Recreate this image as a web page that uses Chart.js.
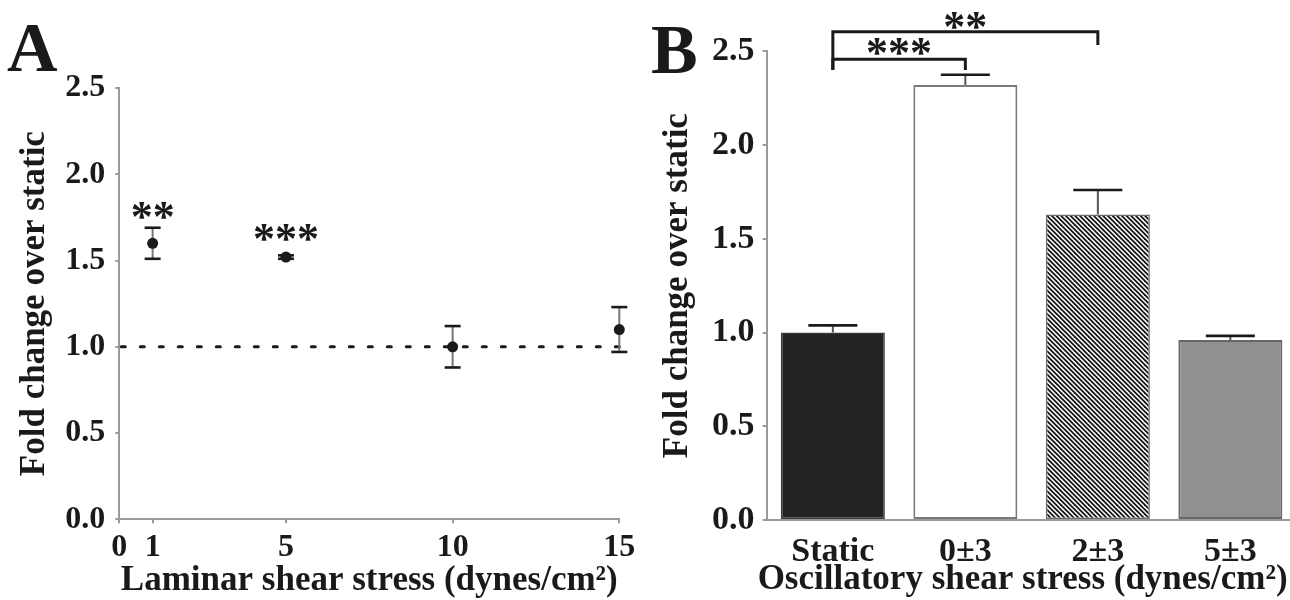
<!DOCTYPE html>
<html><head><meta charset="utf-8">
<script src="https://cdn.jsdelivr.net/npm/chart.js@4.4.0/dist/chart.umd.min.js"></script>
<style>
html,body{margin:0;padding:0;background:#fff;overflow:hidden;width:1290px;height:600px;}
#wrap{position:relative;width:1290px;height:600px;overflow:hidden;background:#fff;}
canvas{position:absolute;top:0;}
#cA{left:0;}
#cB{left:640px;}
.panel{position:absolute;font-family:"Liberation Serif","Times New Roman",serif;font-weight:bold;font-size:70px;line-height:70px;color:#1a1a1a;}
</style></head><body>
<div id="wrap">
<canvas id="cA" width="660" height="600"></canvas>
<canvas id="cB" width="660" height="600"></canvas>
<div class="panel" style="left:7px;top:13px">A</div>
<div class="panel" style="left:651px;top:15px">B</div>
</div>
<script>
// ---- Panel A data (laminar shear) ----
const laminarStress = [1, 5, 10, 15];
const laminarFold   = [1.60, 1.52, 1.00, 1.10];
const laminarErr    = [0.09, 0.01, 0.12, 0.13];
const laminarSig    = ['**', '***', '', ''];
const laminarTicks  = [0, 1, 5, 10, 15];
const staticRef     = 1.0;

// ---- Panel B data (oscillatory shear) ----
const oscCategories = ['Static', '0±3', '2±3', '5±3'];
const oscFold       = [1.00, 2.32, 1.63, 0.96];
const oscErr        = [0.038, 0.055, 0.13, 0.022];
const oscComparisons = [
  { from: 0, to: 1, label: '***' },
  { from: 0, to: 2, label: '**' }
];
const oscTitle = 'Oscillatory shear stress (dynes/cm²)';

// shared y ticks
const foldTicks = [0, 0.5, 1.0, 1.5, 2.0, 2.5];

// ---- styles ----
const FONT = '"Liberation Serif", "Times New Roman", serif';
const INK = '#1a1a1a';
const AXIS = '#9a9a9a';
const STAR_FONT = 'bold 44px ' + FONT;
const SIG_LIFT_A = [17, 23, 0, 0];           // px above error-bar top (glyph centre)
const BRACKET_BAR_Y = [59.3, 31.7];          // px, horizontal bar of each bracket
const BRACKET_RIGHT_LEG_Y = [70, 45];        // px, bottom of right leg
const BRACKET_LEFT_LEG_Y = 70;               // px, bottom of shared left leg
const BRACKET_TEXT_LIFT = [12.6, 11];        // px above bar (glyph centre)
const B_TITLE_SHIFT = -9;                    // px, x-title offset from axis centre
const B_TITLE_Y_FROM_BOTTOM = 20;            // px

function hatchPattern() {
  const T = 14;
  const c = document.createElement('canvas');
  c.width = T; c.height = T;
  const g = c.getContext('2d');
  g.fillStyle = '#ffffff';
  g.fillRect(0, 0, T, T);
  g.strokeStyle = '#141414';
  g.lineWidth = 1.8;
  for (let k = -4; k <= 7; k++) {
    const o = k * T / 3;
    g.beginPath();
    g.moveTo(-2, o - 2);
    g.lineTo(T + 2, o + T + 2);
    g.stroke();
  }
  return g.createPattern(c, 'repeat');
}

function seg(ctx, x1, y1, x2, y2) {
  ctx.beginPath(); ctx.moveTo(x1, y1); ctx.lineTo(x2, y2); ctx.stroke();
}
function starText(ctx, text, cx, cy) {
  ctx.save();
  ctx.font = STAR_FONT;
  ctx.fillStyle = INK;
  ctx.textAlign = 'center';
  ctx.textBaseline = 'alphabetic';
  const m = ctx.measureText(text);
  const off = (m.actualBoundingBoxAscent - m.actualBoundingBoxDescent) / 2;
  ctx.fillText(text, cx, cy + off);
  ctx.restore();
}

const tickFontA = { family: FONT, size: 32, weight: 'bold' };
const tickFontB = { family: FONT, size: 34, weight: 'bold' };
const titleFont = { family: FONT, size: 35, weight: 'bold', lineHeight: 1 };

// ---- Panel A ----
const errPluginA = {
  id: 'errA',
  beforeDatasetDraw(chart, args) {
    if (args.index !== 0) return;
    const { ctx, scales: { x, y } } = chart;
    ctx.save();
    laminarStress.forEach((sx, i) => {
      const px = x.getPixelForValue(sx);
      const yt = y.getPixelForValue(laminarFold[i] + laminarErr[i]);
      const yb = y.getPixelForValue(laminarFold[i] - laminarErr[i]);
      ctx.strokeStyle = '#777';
      ctx.lineWidth = 2;
      seg(ctx, px, yt, px, yb);
      ctx.strokeStyle = INK;
      ctx.lineWidth = 2.6;
      seg(ctx, px - 8, yt, px + 8, yt);
      seg(ctx, px - 8, yb, px + 8, yb);
    });
    ctx.restore();
  },
  afterDraw(chart) {
    const { ctx, scales: { x, y } } = chart;
    laminarSig.forEach((s, i) => {
      if (!s) return;
      const px = x.getPixelForValue(laminarStress[i]);
      const yt = y.getPixelForValue(laminarFold[i] + laminarErr[i]);
      starText(ctx, s, px, yt - SIG_LIFT_A[i]);
    });
  }
};

new Chart(document.getElementById('cA'), {
  type: 'scatter',
  data: {
    datasets: [
      {
        label: 'Laminar',
        data: laminarStress.map((sx, i) => ({ x: sx, y: laminarFold[i] })),
        pointRadius: 5.5,
        pointBackgroundColor: INK,
        pointBorderColor: INK,
        pointBorderWidth: 0,
        showLine: false,
        clip: false
      },
      {
        type: 'line',
        label: 'Static',
        data: [{ x: laminarTicks[0], y: staticRef }, { x: laminarTicks[laminarTicks.length - 1], y: staticRef }],
        borderColor: INK,
        borderWidth: 3,
        borderDash: [4, 15],
        borderDashOffset: -2,
        borderCapStyle: 'round',
        pointRadius: 0,
        clip: false
      }
    ]
  },
  options: {
    responsive: false, animation: false, devicePixelRatio: 1,
    layout: { padding: { left: 0, top: 88, right: 40.7, bottom: 0 } },
    plugins: { legend: { display: false }, tooltip: { enabled: false } },
    scales: {
      x: {
        type: 'linear', min: 0, max: 15,
        afterBuildTicks: s => { s.ticks = laminarTicks.map(v => ({ value: v })); },
        afterFit: s => { s.height = 80.7; },
        grid: { display: true, drawOnChartArea: false, drawTicks: true, tickLength: 4, color: AXIS, lineWidth: 2 },
        border: { display: true, color: AXIS, width: 2 },
        ticks: { padding: 5, color: INK, font: tickFontA, maxRotation: 0, autoSkip: false, callback: v => String(v) },
        title: { display: true, text: 'Laminar shear stress (dynes/cm²)', color: INK, font: titleFont, padding: { top: 0, bottom: 2 } }
      },
      y: {
        type: 'linear', min: 0, max: 2.5,
        afterBuildTicks: s => { s.ticks = foldTicks.map(v => ({ value: v })); },
        afterFit: s => { s.width = 119.3; },
        grid: { display: true, drawOnChartArea: false, drawTicks: true, tickLength: 4, color: AXIS, lineWidth: 2 },
        border: { display: true, color: AXIS, width: 2 },
        ticks: { padding: 10, color: INK, font: tickFontA, autoSkip: false, callback: v => Number(v).toFixed(1) },
        title: { display: true, text: 'Fold change over static', color: INK, font: titleFont, padding: { top: 17, bottom: 0 } }
      }
    }
  },
  plugins: [errPluginA]
});

// ---- Panel B ----
const errPluginB = {
  id: 'errB',
  afterDatasetsDraw(chart) {
    const { ctx, scales: { x, y } } = chart;
    ctx.save();
    oscFold.forEach((v, i) => {
      const px = x.getPixelForValue(i);
      const top = y.getPixelForValue(v);
      const e = y.getPixelForValue(v + oscErr[i]);
      ctx.strokeStyle = '#555';
      ctx.lineWidth = 2;
      seg(ctx, px, top, px, e);
      ctx.strokeStyle = INK;
      ctx.lineWidth = 2.6;
      seg(ctx, px - 24.5, e, px + 24.5, e);
    });
    ctx.restore();
  },
  afterDraw(chart) {
    const { ctx, scales: { x } } = chart;
    ctx.save();
    ctx.strokeStyle = INK;
    ctx.lineWidth = 3;
    ctx.lineCap = 'butt';
    oscComparisons.forEach((c, k) => {
      const x1 = x.getPixelForValue(c.from);
      const x2 = x.getPixelForValue(c.to);
      const by = BRACKET_BAR_Y[k];
      ctx.beginPath();
      ctx.moveTo(x1, BRACKET_LEFT_LEG_Y);
      ctx.lineTo(x1, by);
      ctx.lineTo(x2, by);
      ctx.lineTo(x2, BRACKET_RIGHT_LEG_Y[k]);
      ctx.stroke();
      starText(ctx, c.label, (x1 + x2) / 2, by - BRACKET_TEXT_LIFT[k]);
    });
    // x-axis title (slightly left of axis centre, as in the original)
    ctx.font = 'bold 35px ' + FONT;
    ctx.fillStyle = INK;
    ctx.textAlign = 'center';
    ctx.textBaseline = 'middle';
    ctx.fillText(oscTitle, (x.left + x.right) / 2 + B_TITLE_SHIFT, chart.height - B_TITLE_Y_FROM_BOTTOM);
    ctx.restore();
  }
};

new Chart(document.getElementById('cB'), {
  type: 'bar',
  data: {
    labels: oscCategories,
    datasets: [{
      label: 'Oscillatory',
      data: oscFold,
      backgroundColor: ['#252223', '#ffffff', hatchPattern(), '#8f9092'],
      borderColor: ['#3a3a3a', '#7a7a7a', '#6a6a6a', '#666666'],
      borderWidth: [1.5, 2, 1.5, 2],
      borderSkipped: false,
      barPercentage: 0.785,
      categoryPercentage: 1
    }]
  },
  options: {
    responsive: false, animation: false, devicePixelRatio: 1,
    layout: { padding: { left: 0, top: 51.3, right: 3.4, bottom: 0 } },
    plugins: { legend: { display: false }, tooltip: { enabled: false } },
    scales: {
      x: {
        afterFit: s => { s.height = 80; },
        grid: { display: false },
        border: { display: true, color: AXIS, width: 2 },
        ticks: { padding: 4, color: INK, font: tickFontB, maxRotation: 0, autoSkip: false },
        title: { display: false, text: oscTitle }
      },
      y: {
        type: 'linear', min: 0, max: 2.5,
        afterBuildTicks: s => { s.ticks = foldTicks.map(v => ({ value: v })); },
        afterFit: s => { s.width = 126.6; },
        grid: { display: true, drawOnChartArea: false, drawTicks: true, tickLength: 4, color: AXIS, lineWidth: 2 },
        border: { display: true, color: AXIS, width: 2 },
        ticks: { padding: 8, color: INK, font: tickFontB, autoSkip: false, callback: v => Number(v).toFixed(1) },
        title: { display: true, text: 'Fold change over static', color: INK, font: titleFont, padding: { top: 20, bottom: 0 } }
      }
    }
  },
  plugins: [errPluginB]
});
</script>
</body></html>
